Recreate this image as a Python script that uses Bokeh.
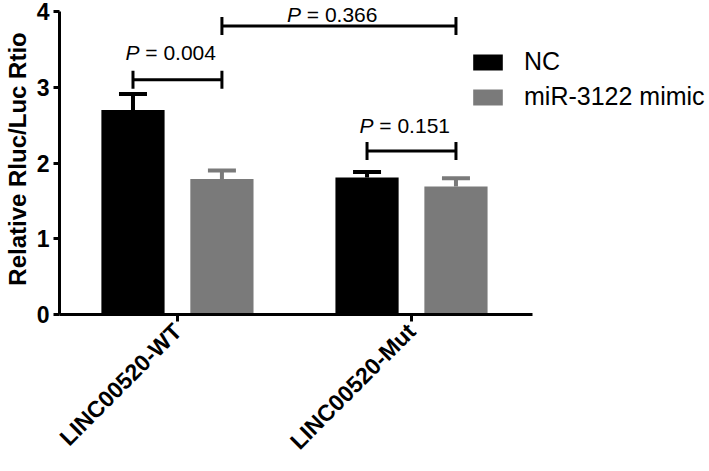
from bokeh.plotting import figure
from bokeh.models import (ColumnDataSource, Whisker, TeeHead, FixedTicker, Legend, LegendItem, Range1d)
from bokeh.core.properties import value
from bokeh.embed import file_html
from bokeh.resources import INLINE
import math

# ---- data ----
groups = ["LINC00520-WT", "LINC00520-Mut"]
series = ["NC", "miR-3122 mimic"]
colors = ["#000000", "#7a7a7a"]
means = {"NC": [2.70, 1.81], "miR-3122 mimic": [1.79, 1.69]}
errors = {"NC": [0.21, 0.07], "miR-3122 mimic": [0.11, 0.11]}
y_ticks = [0, 1, 2, 3, 4]
# brackets: (group, series) start, (group, series) end, bracket height, label
br_start = [(0, 0), (0, 1), (1, 0)]
br_end = [(0, 1), (1, 1), (1, 1)]
br_y = [3.10, 3.81, 2.16]
br_text_y = [3.46, 3.96, 2.49]
br_p = ["0.004", "0.366", "0.151"]

FONT = "Liberation Sans"
offsets = [-0.19, 0.19]
bar_w = 0.27

# axis spans 0.496..2.517 over 473 px; frame continues to the right for the legend
ax_start, ax_end = 0.496, 2.517
axis_px, frame_w = 473, 647
x_end = ax_start + (ax_end - ax_start) * frame_w / axis_px
# y axis 0..4 over 303 px; frame extends a little higher so top texts are not clipped
y_axis_px, y_pad_px = 303, 8
y_end = 4 + 4 * y_pad_px / y_axis_px

p = figure(frame_width=frame_w, frame_height=y_axis_px + y_pad_px, output_backend="svg",
           toolbar_location=None,
           x_range=Range1d(ax_start, x_end), y_range=Range1d(0, y_end),
           min_border_top=11 - y_pad_px, min_border_bottom=0, min_border_left=54, min_border_right=0)
p.outline_line_color = None
p.grid.visible = False
p.background_fill_color = None
p.border_fill_color = "white"

def xpos(g, s):
    return g + 1 + offsets[s]

renderers = []
for si, s in enumerate(series):
    xs = [xpos(g, si) for g in range(len(groups))]
    src = ColumnDataSource(dict(x=xs, top=means[s],
                                upper=[m + e for m, e in zip(means[s], errors[s])]))
    r = p.vbar(x="x", top="top", width=bar_w, bottom=0, source=src,
               fill_color=colors[si], line_color=None)
    renderers.append(r)
    w = Whisker(source=src, base="x", upper="upper", lower="top", dimension="height",
                line_color=colors[si], line_width=4,
                upper_head=TeeHead(size=28, line_width=4, line_color=colors[si]),
                lower_head=None, level="underlay")
    p.add_layout(w)

# significance brackets
bsrc = ColumnDataSource(dict(
    base=br_y,
    lower=[xpos(*a) for a in br_start],
    upper=[xpos(*b) for b in br_end],
))
p.add_layout(Whisker(source=bsrc, base="base", lower="lower", upper="upper", dimension="width",
                     line_color="black", line_width=3,
                     lower_head=TeeHead(size=18, line_width=3),
                     upper_head=TeeHead(size=18, line_width=3)))
tx = [(xpos(*a) + xpos(*b)) / 2 for a, b in zip(br_start, br_end)]
tsrc = ColumnDataSource(dict(x=tx, y=br_text_y, rest=["\u00a0=\u00a0" + v for v in br_p], P=["P"] * 3))
p.text(x="x", y="y", text="P", source=tsrc, text_font=value(FONT), text_font_style="italic",
       text_font_size="21px", text_align="right", text_baseline="middle", x_offset=-38,
       text_color="black")
p.text(x="x", y="y", text="rest", source=tsrc, text_font=value(FONT),
       text_font_size="21px", text_align="left", text_baseline="middle", x_offset=-38,
       text_color="black")

# axes
p.xaxis.bounds = (ax_start, ax_end)
p.xaxis.ticker = FixedTicker(ticks=[i + 1 for i in range(len(groups))])
p.xaxis.major_label_overrides = {i + 1: g for i, g in enumerate(groups)}
p.xaxis.major_label_orientation = math.pi / 4
p.xaxis.major_label_text_font = FONT
p.xaxis.major_label_text_font_style = "bold"
p.xaxis.major_label_text_font_size = "23px"
p.xaxis.major_label_text_color = "black"
p.xaxis.axis_line_width = 3
p.xaxis.major_tick_line_width = 3
p.xaxis.major_tick_out = 7
p.xaxis.major_tick_in = 0
p.xaxis.minor_tick_line_color = None
p.xaxis.major_label_standoff = 6

p.yaxis.bounds = (0, 4)
p.yaxis.ticker = FixedTicker(ticks=y_ticks)
p.yaxis.axis_label = "Relative Rluc/Luc Rtio"
p.yaxis.axis_label_text_font = FONT
p.yaxis.axis_label_text_font_style = "bold"
p.yaxis.axis_label_text_font_size = "24px"
p.yaxis.axis_label_text_color = "black"
p.yaxis.axis_label_standoff = 3
p.yaxis.major_label_text_font = FONT
p.yaxis.major_label_text_font_style = "bold"
p.yaxis.major_label_text_font_size = "23px"
p.yaxis.major_label_text_color = "black"
p.yaxis.axis_line_width = 3
p.yaxis.major_tick_line_width = 3
p.yaxis.major_tick_out = 6
p.yaxis.major_tick_in = 0
p.yaxis.minor_tick_line_color = None
p.yaxis.major_label_standoff = 4

legend = Legend(items=[LegendItem(label=s, renderers=[r]) for s, r in zip(series, renderers)],
                location=(410, 203), glyph_width=37, glyph_height=20, label_standoff=18,
                label_text_font=FONT, label_text_font_size="25px", label_text_color="black",
                spacing=6, padding=0, margin=0, border_line_color=None, background_fill_alpha=0)
p.add_layout(legend)

open("out.html", "w").write(file_html(p, INLINE))
